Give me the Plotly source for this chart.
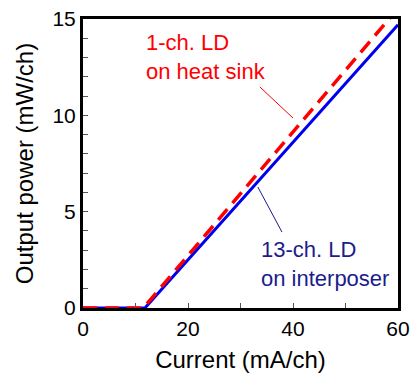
import plotly.graph_objects as go

# Light-output vs. current characteristics (L-I curves)
current_hs = [0, 11.5, 60]          # mA/ch, 1-ch. LD on heat sink
power_hs = [0, 0, 15.55]            # mW/ch
current_ip = [0, 11.8, 60]          # mA/ch, 13-ch. LD on interposer
power_ip = [0, 0, 14.7]             # mW/ch

x_ticks = [0, 20, 40, 60]
y_ticks = [0, 5, 10, 15]

FONT = "Liberation Sans, Arial, sans-serif"
RED = "#ff0000"
BLUE = "#0000ee"
NAVY = "#1c1c8c"

fig = go.Figure()
fig.add_trace(go.Scatter(
    x=current_ip, y=power_ip, mode="lines",
    line=dict(color=BLUE, width=3), showlegend=False,
))
fig.add_trace(go.Scatter(
    x=current_hs, y=power_hs, mode="lines",
    line=dict(color=RED, width=3.5, dash="14px,8px"), showlegend=False,
))

# Labels with callout lines
fig.add_annotation(x=11.6, y=13.05, xref="x", yref="y", text="1-ch. LD<br>on heat sink",
                   showarrow=False, xanchor="left", yanchor="middle", align="left",
                   font=dict(family=FONT, size=22, color=RED))
fig.add_annotation(x=33.5, y=2.28, xref="x", yref="y", text="13-ch. LD<br>on interposer",
                   showarrow=False, xanchor="left", yanchor="middle", align="left",
                   font=dict(family=FONT, size=22, color=NAVY))
fig.add_shape(type="line", x0=33.7, y0=11.47, x1=40.0, y1=9.86, xref="x", yref="y",
              line=dict(color=RED, width=1))
fig.add_shape(type="line", x0=33.3, y0=6.28, x1=37.9, y1=3.94, xref="x", yref="y",
              line=dict(color=NAVY, width=1))

axis_common = dict(
    showline=True, linecolor="black", linewidth=3, mirror=True,
    ticks="inside", ticklen=5, tickwidth=1, tickcolor="#555",
    showgrid=False, zeroline=False, automargin=False,
    tickfont=dict(family=FONT, size=21, color="black"),
    title_font=dict(family=FONT, size=24, color="black"),
)

fig.update_xaxes(range=[0, 60], tickvals=x_ticks, title_text="Current (mA/ch)",
                 minor=dict(dtick=10, ticks="inside", ticklen=5, tickcolor="#555"),
                 title_standoff=13, **axis_common)
fig.update_yaxes(range=[0, 15], tickvals=y_ticks, title_text="Output power (mW/ch)",
                 minor=dict(dtick=1, ticks="inside", ticklen=5, tickcolor="#555"),
                 title_standoff=13, **axis_common)

fig.update_layout(
    width=411, height=373,
    margin=dict(l=83, r=13, t=19, b=65),
    paper_bgcolor="white", plot_bgcolor="white",
)

fig.write_html("out.html")
